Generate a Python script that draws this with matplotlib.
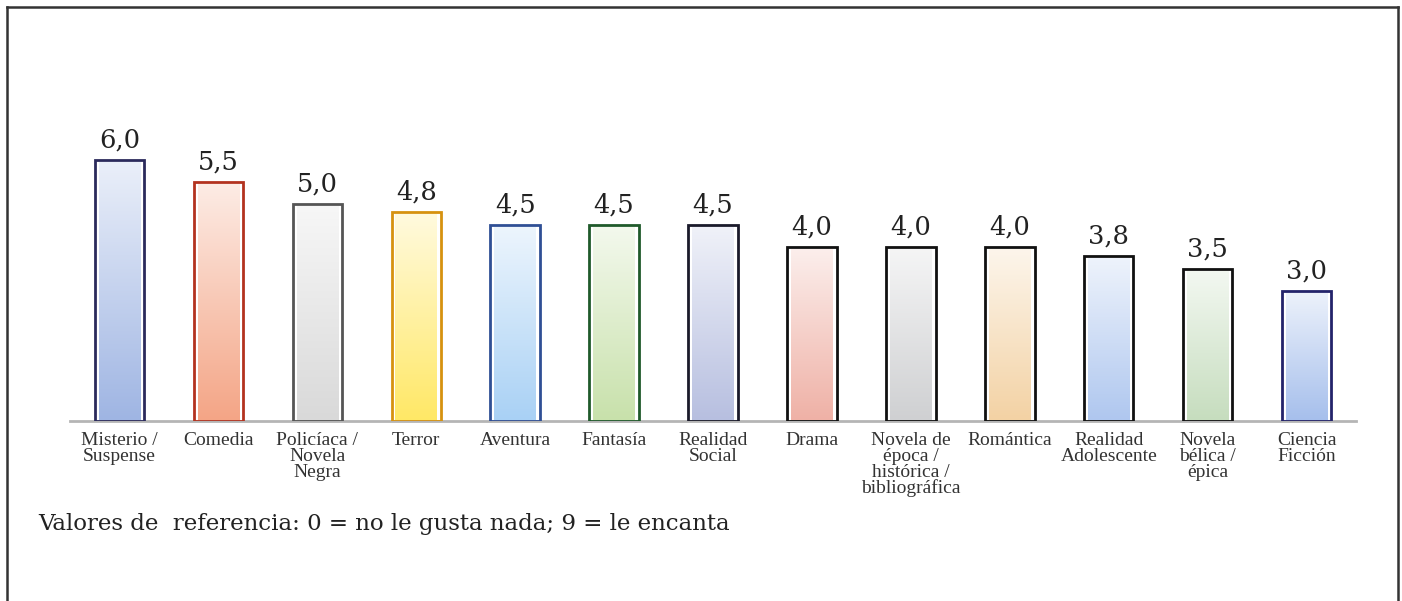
import matplotlib
matplotlib.use('Agg')
import matplotlib.pyplot as plt
import numpy as np
from matplotlib.colors import to_rgb
from matplotlib.lines import Line2D

generos = ['Misterio /\nSuspense', 'Comedia', 'Policíaca /\nNovela\nNegra', 'Terror', 'Aventura',
           'Fantasía', 'Realidad\nSocial', 'Drama', 'Novela de\népoca /\nhistórica /\nbibliográfica',
           'Romántica', 'Realidad\nAdolescente', 'Novela\nbélica /\népica', 'Ciencia\nFicción']
valores = [6.0, 5.5, 5.0, 4.8, 4.5, 4.5, 4.5, 4.0, 4.0, 4.0, 3.8, 3.5, 3.0]
bordes = ['#2b2a5c', '#b3321f', '#555555', '#d6920f', '#2f4f95', '#1f5a2a', '#1a1a2a',
          '#111111', '#111111', '#111111', '#111111', '#111111', '#23236a']
rellenos = ['#9fb5e3', '#f4a586', '#d9d9d9', '#ffe866', '#a9d1f5', '#c8e1ab', '#b7bfe0',
            '#efb1a6', '#cfd0d2', '#f3d2a4', '#afc7ef', '#c6ddbe', '#a6bfec']


def degradado(color):
	base = np.array(to_rgb(color))
	t = np.linspace(0, 1, 100)[:, None]
	top = base + (1 - base) * 0.78
	return (top * (1 - t) + base * t)[:, None, :]


fig = plt.figure(figsize=(14.02, 6.01), dpi=100)
ax = fig.add_axes([70 / 1402, 180 / 601, 1286 / 1402, 304.5 / 601])
ancho = 0.5
x = np.arange(len(valores))
for i, v in enumerate(valores):
	pad = 0.04
	ax.imshow(degradado(rellenos[i]), extent=[x[i] - ancho / 2 + pad, x[i] + ancho / 2 - pad, 0, v - 0.06],
	          aspect='auto', zorder=2, interpolation='bilinear')
	ax.bar(x[i], v, width=ancho, facecolor='none', edgecolor=bordes[i], linewidth=2, zorder=3)
	ax.text(x[i], v + 0.17, '{:.1f}'.format(v).replace('.', ','), ha='center', va='bottom',
	        fontsize=18.5, family='DejaVu Serif', color='#222222')

ax.set_xlim(-0.5, 12.5)
ax.set_ylim(0, 7)
ax.set_xticks(x)
ax.set_xticklabels(generos, family='Liberation Serif', fontsize=14, color='#333333', linespacing=0.9)
ax.tick_params(axis='x', length=0, pad=8)
ax.set_yticks([])
for s in ['top', 'right', 'left']:
	ax.spines[s].set_visible(False)
ax.spines['bottom'].set_color('#b5b5b5')
ax.spines['bottom'].set_linewidth(2)

fig.text(38 / 1402, 1 - 530 / 601, 'Valores de  referencia: 0 = no le gusta nada; 9 = le encanta',
         family='DejaVu Serif', fontsize=16.5, color='#222222', va='baseline')

# marco exterior (sin borde inferior visible)
w, h = 1402, 601
fig.add_artist(Line2D([7 / w, 7 / w], [0, 1 - 7 / h], color='#333333', lw=1.8))
fig.add_artist(Line2D([7 / w, 1398 / w], [1 - 7 / h, 1 - 7 / h], color='#333333', lw=1.8))
fig.add_artist(Line2D([1398 / w, 1398 / w], [0, 1 - 7 / h], color='#333333', lw=1.8))

plt.savefig('out.png', dpi=100)
